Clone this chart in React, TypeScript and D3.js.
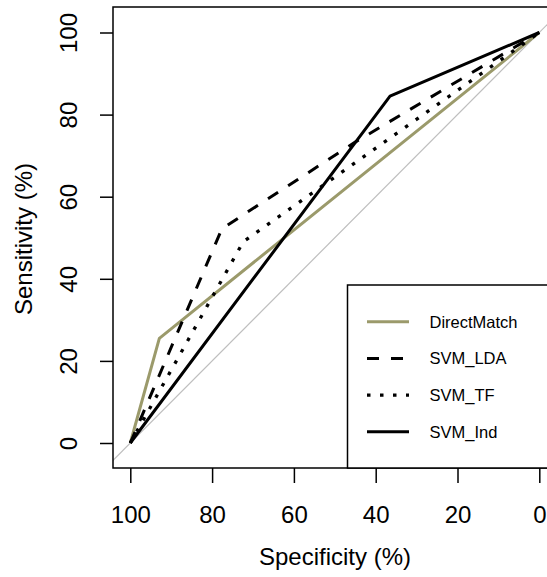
import React, { useRef, useEffect } from "react";
import * as d3 from "d3";

// curves as [specificity, sensitivity] in %
const seriesNames = ["DirectMatch", "SVM_LDA", "SVM_TF", "SVM_Ind"];
const directMatch: [number, number][] = [[100, 0], [92.9, 25.5], [0, 100]];
const svmLDA: [number, number][] = [[100, 0], [77.6, 52.2], [45, 73.3], [0, 100]];
const svmTF: [number, number][] = [[100, 0], [72.4, 49], [0, 100]];
const svmInd: [number, number][] = [[100, 0], [36.5, 84.5], [0, 100]];
const ticks = [100, 80, 60, 40, 20, 0];

const styles = [
  { color: "#9b9a6b", dash: null, width: 3 },
  { color: "#000", dash: "12 12", width: 3 },
  { color: "#000", dash: "3.5 9.5", width: 3.3 },
  { color: "#000", dash: null, width: 3 },
];

const App = () => {
  const ref = useRef<SVGSVGElement>(null);

  useEffect(() => {
    const svg = d3.select(ref.current);
    svg.selectAll("*").remove();
    const font = "Liberation Sans, Arial, sans-serif";

    const x = d3.scaleLinear().domain([100, 0]).range([130.3, 539.3]);
    const y = d3.scaleLinear().domain([0, 100]).range([443, 32.5]);
    const box = { x0: 113, x1: 556, y0: 7, y1: 468 };

    svg.append("defs").append("clipPath").attr("id", "plotclip")
      .append("rect").attr("x", box.x0).attr("y", box.y0)
      .attr("width", box.x1 - box.x0).attr("height", box.y1 - box.y0);

    const plot = svg.append("g").attr("clip-path", "url(#plotclip)");

    // reference diagonal
    plot.append("line")
      .attr("x1", x(120)).attr("y1", y(-20))
      .attr("x2", x(-20)).attr("y2", y(120))
      .attr("stroke", "#bebebe").attr("stroke-width", 1.2);

    const line = d3.line<[number, number]>().x((d) => x(d[0])).y((d) => y(d[1]));
    [directMatch, svmLDA, svmTF, svmInd].forEach((data, i) => {
      plot.append("path")
        .attr("d", line(data))
        .attr("fill", "none")
        .attr("stroke", styles[i].color)
        .attr("stroke-width", styles[i].width)
        .attr("stroke-dasharray", styles[i].dash)
        .attr("stroke-linejoin", "round");
    });

    // box
    svg.append("rect")
      .attr("x", box.x0).attr("y", box.y0)
      .attr("width", box.x1 - box.x0).attr("height", box.y1 - box.y0)
      .attr("fill", "none").attr("stroke", "#000").attr("stroke-width", 1.5);

    // x axis
    const gx = svg.append("g").attr("transform", `translate(0,${box.y1})`);
    gx.call(d3.axisBottom(x).tickValues(ticks).tickSize(15).tickPadding(0).tickSizeOuter(0));
    gx.select(".domain").remove();
    gx.selectAll(".tick line").attr("stroke-width", 1.5);
    gx.selectAll(".tick text")
      .attr("y", 55).attr("dy", null)
      .attr("font-size", 24).attr("font-family", font).attr("fill", "#000");

    // y axis
    const gy = svg.append("g").attr("transform", `translate(${box.x0},0)`);
    gy.call(d3.axisLeft(y).tickValues(ticks).tickSize(13).tickSizeOuter(0));
    gy.select(".domain").remove();
    gy.selectAll(".tick line").attr("stroke-width", 1.5);
    gy.selectAll(".tick text")
      .attr("x", null).attr("dy", null)
      .attr("transform", "translate(-36,0) rotate(-90)")
      .attr("text-anchor", "middle")
      .attr("font-size", 24).attr("font-family", font).attr("fill", "#000");

    // axis titles
    svg.append("text")
      .attr("x", 335).attr("y", 565)
      .attr("text-anchor", "middle")
      .attr("font-size", 24).attr("font-family", font)
      .text("Specificity (%)");
    svg.append("text")
      .attr("transform", "translate(32,239) rotate(-90)")
      .attr("text-anchor", "middle")
      .attr("font-size", 24).attr("font-family", font)
      .text("Sensitivity (%)");

    // legend
    const lg = svg.append("g");
    lg.append("rect")
      .attr("x", 347.5).attr("y", 285)
      .attr("width", 220).attr("height", box.y1 - 285)
      .attr("fill", "#fff").attr("stroke", "#000").attr("stroke-width", 1.5);
    seriesNames.forEach((name, i) => {
      const ly = 321.7 + i * 36.7;
      lg.append("line")
        .attr("x1", 367).attr("x2", 409).attr("y1", ly).attr("y2", ly)
        .attr("stroke", styles[i].color)
        .attr("stroke-width", styles[i].width)
        .attr("stroke-dasharray", styles[i].dash);
      lg.append("text")
        .attr("x", 429.5).attr("y", ly + 6)
        .attr("font-size", 16.5).attr("font-family", font)
        .text(name);
    });
  }, []);

  return (
    <div style={{ position: "absolute", left: 0, top: 0 }}>
      <svg ref={ref} width={547} height={577} style={{ display: "block", background: "#fff" }} />
    </div>
  );
};

export default App;
